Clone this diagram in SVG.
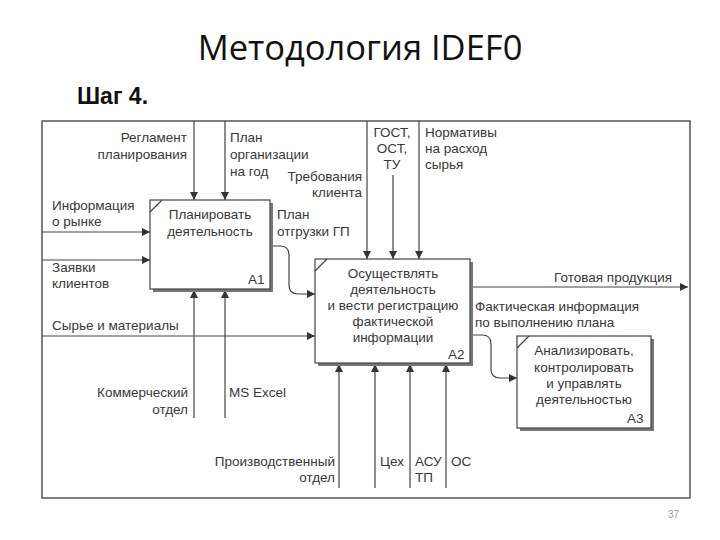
<svg xmlns="http://www.w3.org/2000/svg" width="720" height="540" viewBox="0 0 720 540">
<defs>
<marker id="ah" markerUnits="userSpaceOnUse" markerWidth="9" markerHeight="8" refX="8" refY="4" orient="auto">
<path d="M0,0 L8,4 L0,8 Z" fill="#333"/>
</marker>
<style>
.t{font-family:"Liberation Sans",Arial,sans-serif;font-size:13.5px;fill:#383838}
.m{text-anchor:middle}
.e{text-anchor:end}
.ln{fill:none;stroke:#444;stroke-width:1.2}
.box{fill:#fff;stroke:#444;stroke-width:1.2}
.sh{fill:#777}
</style>
</defs>
<rect width="720" height="540" fill="#fff"/>
<text x="360" y="60" text-anchor="middle" style="font-family:'Open Sans','Noto Sans',sans-serif;font-size:34.5px;fill:#111">Методология IDEF0</text>
<text x="77" y="104" style="font-family:'Liberation Sans',Arial,sans-serif;font-size:23px;font-weight:bold;fill:#111">Шаг 4.</text>
<rect x="42" y="121" width="648" height="377" fill="none" stroke="#555" stroke-width="1.5"/>

<g id="connectors">
<path class="ln" d="M194,121 V200" marker-end="url(#ah)"/>
<path class="ln" d="M225,121 V200" marker-end="url(#ah)"/>
<path class="ln" d="M42,232 H150" marker-end="url(#ah)"/>
<path class="ln" d="M42,260 H150" marker-end="url(#ah)"/>
<path class="ln" d="M194,418 V290" marker-end="url(#ah)"/>
<path class="ln" d="M225,418 V290" marker-end="url(#ah)"/>
<path class="ln" d="M270,246 H280 Q289,246 289,255 V285 Q289,294 298,294 H315" marker-end="url(#ah)"/>
<path class="ln" d="M367,121 V259" marker-end="url(#ah)"/>
<path class="ln" d="M393,175 V259" marker-end="url(#ah)"/>
<path class="ln" d="M419,121 V259" marker-end="url(#ah)"/>
<path class="ln" d="M42,336 H315" marker-end="url(#ah)"/>
<path class="ln" d="M470,287 H688" marker-end="url(#ah)"/>
<path class="ln" d="M470,335 H482 Q491,335 491,344 V369 Q491,378 500,378 H517" marker-end="url(#ah)"/>
<path class="ln" d="M339,488 V364" marker-end="url(#ah)"/>
<path class="ln" d="M375,488 V364" marker-end="url(#ah)"/>
<path class="ln" d="M410,488 V364" marker-end="url(#ah)"/>
<path class="ln" d="M446,488 V364" marker-end="url(#ah)"/>
</g>

<g id="labels">
<text class="t e" x="187" y="142">Регламент</text>
<text class="t e" x="187" y="159">планирования</text>
<text class="t" x="230" y="142">План</text>
<text class="t" x="230" y="159">организации</text>
<text class="t" x="230" y="176">на год</text>
<text class="t" x="52" y="210">Информация</text>
<text class="t" x="52" y="226">о рынке</text>
<text class="t" x="52" y="272">Заявки</text>
<text class="t" x="52" y="288">клиентов</text>
<text class="t" x="52" y="330">Сырье и материалы</text>
<text class="t e" x="188" y="397">Коммерческий</text>
<text class="t e" x="188" y="414">отдел</text>
<text class="t" x="229" y="397">MS Excel</text>
<text class="t" x="277" y="219">План</text>
<text class="t" x="277" y="236">отгрузки ГП</text>
<text class="t e" x="362" y="181">Требования</text>
<text class="t e" x="362" y="197">клиента</text>
<text class="t m" x="392" y="137">ГОСТ,</text>
<text class="t m" x="392" y="153">ОСТ,</text>
<text class="t m" x="392" y="169">ТУ</text>
<text class="t" x="425" y="137">Нормативы</text>
<text class="t" x="425" y="153">на расход</text>
<text class="t" x="425" y="169">сырья</text>
<text class="t e" x="672" y="282">Готовая продукция</text>
<text class="t" x="475" y="311">Фактическая информация</text>
<text class="t" x="475" y="327">по выполнению плана</text>
<text class="t e" x="335" y="466">Производственный</text>
<text class="t e" x="335" y="482">отдел</text>
<text class="t" x="380" y="466">Цех</text>
<text class="t" x="415" y="466">АСУ</text>
<text class="t" x="415" y="482">ТП</text>
<text class="t" x="451" y="466">ОС</text>
</g>

<g id="A1">
<rect class="sh" x="153" y="203" width="120" height="89"/>
<rect class="box" x="150" y="200" width="120" height="89"/>
<path class="ln" d="M150,212 L162,200"/>
<text class="t m" x="210" y="219">Планировать</text>
<text class="t m" x="210" y="236">деятельность</text>
<text class="t" x="248" y="284">А1</text>
</g>

<g id="A2">
<rect class="sh" x="318" y="262" width="155" height="104"/>
<rect class="box" x="315" y="259" width="155" height="104"/>
<path class="ln" d="M315,271 L327,259"/>
<text class="t m" x="393" y="278">Осуществлять</text>
<text class="t m" x="393" y="294">деятельность</text>
<text class="t m" x="393" y="310">и вести регистрацию</text>
<text class="t m" x="393" y="326">фактической</text>
<text class="t m" x="393" y="342">информации</text>
<text class="t" x="448" y="359">А2</text>
</g>

<g id="A3">
<rect class="sh" x="520" y="339" width="134" height="92"/>
<rect class="box" x="517" y="336" width="134" height="92"/>
<path class="ln" d="M517,348 L529,336"/>
<text class="t m" x="584" y="355">Анализировать,</text>
<text class="t m" x="584" y="372">контролировать</text>
<text class="t m" x="584" y="388">и управлять</text>
<text class="t m" x="584" y="404">деятельностью</text>
<text class="t" x="627" y="423">А3</text>
</g>

<text x="668" y="518" style="font-family:'Liberation Sans',Arial,sans-serif;font-size:10px;fill:#999">37</text>
</svg>
